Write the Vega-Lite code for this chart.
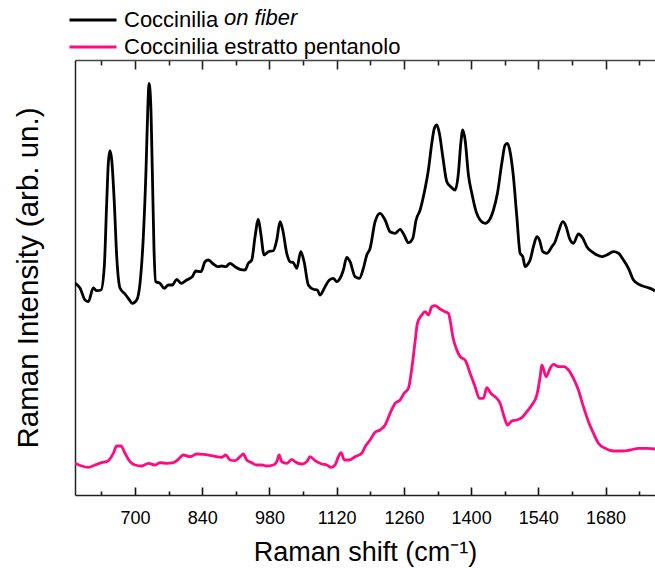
{
  "$schema": "https://vega.github.io/schema/vega-lite/v6.json",
  "width": 580,
  "height": 435,
  "autosize": "none",
  "padding": {"left": 75, "top": 60, "right": 0, "bottom": 73},
  "background": "white",
  "config": {"view": {"stroke": null}, "font": "Liberation Sans"},
  "datasets": {
    "spectra": [
      {"shift": 575, "intensity": 211.7, "sample": "Coccinilia on fiber"},
      {"shift": 585.4, "intensity": 207, "sample": "Coccinilia on fiber"},
      {"shift": 595.8, "intensity": 195, "sample": "Coccinilia on fiber"},
      {"shift": 602.7, "intensity": 193.3, "sample": "Coccinilia on fiber"},
      {"shift": 613.1, "intensity": 207, "sample": "Coccinilia on fiber"},
      {"shift": 620.2, "intensity": 204.3, "sample": "Coccinilia on fiber"},
      {"shift": 629.2, "intensity": 205, "sample": "Coccinilia on fiber"},
      {"shift": 636.0, "intensity": 228.3, "sample": "Coccinilia on fiber"},
      {"shift": 641.0, "intensity": 292, "sample": "Coccinilia on fiber"},
      {"shift": 644.4, "intensity": 332, "sample": "Coccinilia on fiber"},
      {"shift": 647.9, "intensity": 344.3, "sample": "Coccinilia on fiber"},
      {"shift": 651.5, "intensity": 335, "sample": "Coccinilia on fiber"},
      {"shift": 656.9, "intensity": 292, "sample": "Coccinilia on fiber"},
      {"shift": 661.9, "intensity": 238.3, "sample": "Coccinilia on fiber"},
      {"shift": 668.7, "intensity": 207, "sample": "Coccinilia on fiber"},
      {"shift": 679.2, "intensity": 201, "sample": "Coccinilia on fiber"},
      {"shift": 686.0, "intensity": 196.7, "sample": "Coccinilia on fiber"},
      {"shift": 694.4, "intensity": 191.7, "sample": "Coccinilia on fiber"},
      {"shift": 703.5, "intensity": 195, "sample": "Coccinilia on fiber"},
      {"shift": 710.4, "intensity": 211.7, "sample": "Coccinilia on fiber"},
      {"shift": 717.3, "intensity": 258.3, "sample": "Coccinilia on fiber"},
      {"shift": 722.9, "intensity": 325, "sample": "Coccinilia on fiber"},
      {"shift": 726.5, "intensity": 385, "sample": "Coccinilia on fiber"},
      {"shift": 729.2, "intensity": 411.7, "sample": "Coccinilia on fiber"},
      {"shift": 732.7, "intensity": 391.7, "sample": "Coccinilia on fiber"},
      {"shift": 736.0, "intensity": 325, "sample": "Coccinilia on fiber"},
      {"shift": 739.6, "intensity": 245, "sample": "Coccinilia on fiber"},
      {"shift": 743.1, "intensity": 213.3, "sample": "Coccinilia on fiber"},
      {"shift": 752.1, "intensity": 211.7, "sample": "Coccinilia on fiber"},
      {"shift": 761.0, "intensity": 206.7, "sample": "Coccinilia on fiber"},
      {"shift": 769.4, "intensity": 210, "sample": "Coccinilia on fiber"},
      {"shift": 777.7, "intensity": 210, "sample": "Coccinilia on fiber"},
      {"shift": 786.9, "intensity": 215.7, "sample": "Coccinilia on fiber"},
      {"shift": 795.8, "intensity": 211.7, "sample": "Coccinilia on fiber"},
      {"shift": 807.7, "intensity": 215, "sample": "Coccinilia on fiber"},
      {"shift": 819.4, "intensity": 218.3, "sample": "Coccinilia on fiber"},
      {"shift": 826.5, "intensity": 224, "sample": "Coccinilia on fiber"},
      {"shift": 837.5, "intensity": 223.3, "sample": "Coccinilia on fiber"},
      {"shift": 845.8, "intensity": 233.3, "sample": "Coccinilia on fiber"},
      {"shift": 852.7, "intensity": 235, "sample": "Coccinilia on fiber"},
      {"shift": 863.1, "intensity": 231, "sample": "Coccinilia on fiber"},
      {"shift": 872.3, "intensity": 228.3, "sample": "Coccinilia on fiber"},
      {"shift": 880.6, "intensity": 229, "sample": "Coccinilia on fiber"},
      {"shift": 889.0, "intensity": 228.3, "sample": "Coccinilia on fiber"},
      {"shift": 897.9, "intensity": 231.7, "sample": "Coccinilia on fiber"},
      {"shift": 908.3, "intensity": 228.3, "sample": "Coccinilia on fiber"},
      {"shift": 918.7, "intensity": 225.7, "sample": "Coccinilia on fiber"},
      {"shift": 929.2, "intensity": 225, "sample": "Coccinilia on fiber"},
      {"shift": 936.0, "intensity": 231.7, "sample": "Coccinilia on fiber"},
      {"shift": 943.1, "intensity": 235, "sample": "Coccinilia on fiber"},
      {"shift": 950.0, "intensity": 258.3, "sample": "Coccinilia on fiber"},
      {"shift": 956.9, "intensity": 275.7, "sample": "Coccinilia on fiber"},
      {"shift": 961.9, "intensity": 261.7, "sample": "Coccinilia on fiber"},
      {"shift": 968.8, "intensity": 240, "sample": "Coccinilia on fiber"},
      {"shift": 977.7, "intensity": 243.3, "sample": "Coccinilia on fiber"},
      {"shift": 988.1, "intensity": 244.3, "sample": "Coccinilia on fiber"},
      {"shift": 995.2, "intensity": 255, "sample": "Coccinilia on fiber"},
      {"shift": 1002.1, "intensity": 273.3, "sample": "Coccinilia on fiber"},
      {"shift": 1007.7, "intensity": 265, "sample": "Coccinilia on fiber"},
      {"shift": 1016.0, "intensity": 241.7, "sample": "Coccinilia on fiber"},
      {"shift": 1022.9, "intensity": 233.3, "sample": "Coccinilia on fiber"},
      {"shift": 1029.8, "intensity": 232.3, "sample": "Coccinilia on fiber"},
      {"shift": 1036.9, "intensity": 226.7, "sample": "Coccinilia on fiber"},
      {"shift": 1045.2, "intensity": 243.3, "sample": "Coccinilia on fiber"},
      {"shift": 1052.1, "intensity": 233.3, "sample": "Coccinilia on fiber"},
      {"shift": 1061.0, "intensity": 210, "sample": "Coccinilia on fiber"},
      {"shift": 1071.5, "intensity": 205.7, "sample": "Coccinilia on fiber"},
      {"shift": 1079.8, "intensity": 205, "sample": "Coccinilia on fiber"},
      {"shift": 1085.4, "intensity": 200, "sample": "Coccinilia on fiber"},
      {"shift": 1095.8, "intensity": 208.3, "sample": "Coccinilia on fiber"},
      {"shift": 1104.8, "intensity": 215, "sample": "Coccinilia on fiber"},
      {"shift": 1113.1, "intensity": 216.7, "sample": "Coccinilia on fiber"},
      {"shift": 1120.2, "intensity": 213.3, "sample": "Coccinilia on fiber"},
      {"shift": 1127.1, "intensity": 216.7, "sample": "Coccinilia on fiber"},
      {"shift": 1134.0, "intensity": 225, "sample": "Coccinilia on fiber"},
      {"shift": 1141.0, "intensity": 237.7, "sample": "Coccinilia on fiber"},
      {"shift": 1147.9, "intensity": 233.3, "sample": "Coccinilia on fiber"},
      {"shift": 1158.3, "intensity": 218.3, "sample": "Coccinilia on fiber"},
      {"shift": 1167.3, "intensity": 216.7, "sample": "Coccinilia on fiber"},
      {"shift": 1175.6, "intensity": 226.7, "sample": "Coccinilia on fiber"},
      {"shift": 1182.7, "intensity": 240, "sample": "Coccinilia on fiber"},
      {"shift": 1189.6, "intensity": 246.7, "sample": "Coccinilia on fiber"},
      {"shift": 1200.0, "intensity": 273.3, "sample": "Coccinilia on fiber"},
      {"shift": 1210.4, "intensity": 281.7, "sample": "Coccinilia on fiber"},
      {"shift": 1220.8, "intensity": 275, "sample": "Coccinilia on fiber"},
      {"shift": 1231.2, "intensity": 263.3, "sample": "Coccinilia on fiber"},
      {"shift": 1241.7, "intensity": 261.7, "sample": "Coccinilia on fiber"},
      {"shift": 1252.1, "intensity": 265.7, "sample": "Coccinilia on fiber"},
      {"shift": 1260.4, "intensity": 260, "sample": "Coccinilia on fiber"},
      {"shift": 1269.4, "intensity": 252.3, "sample": "Coccinilia on fiber"},
      {"shift": 1278.5, "intensity": 256.7, "sample": "Coccinilia on fiber"},
      {"shift": 1285.4, "intensity": 275, "sample": "Coccinilia on fiber"},
      {"shift": 1293.8, "intensity": 285, "sample": "Coccinilia on fiber"},
      {"shift": 1302.1, "intensity": 301.7, "sample": "Coccinilia on fiber"},
      {"shift": 1311.0, "intensity": 325, "sample": "Coccinilia on fiber"},
      {"shift": 1318.1, "intensity": 351.7, "sample": "Coccinilia on fiber"},
      {"shift": 1323.5, "intensity": 366.7, "sample": "Coccinilia on fiber"},
      {"shift": 1328.5, "intensity": 370, "sample": "Coccinilia on fiber"},
      {"shift": 1333.9, "intensity": 361.7, "sample": "Coccinilia on fiber"},
      {"shift": 1341.0, "intensity": 338.3, "sample": "Coccinilia on fiber"},
      {"shift": 1349.4, "intensity": 313.3, "sample": "Coccinilia on fiber"},
      {"shift": 1357.7, "intensity": 308.3, "sample": "Coccinilia on fiber"},
      {"shift": 1366.7, "intensity": 305, "sample": "Coccinilia on fiber"},
      {"shift": 1373.5, "intensity": 321.7, "sample": "Coccinilia on fiber"},
      {"shift": 1378.5, "intensity": 351.7, "sample": "Coccinilia on fiber"},
      {"shift": 1382.7, "intensity": 365, "sample": "Coccinilia on fiber"},
      {"shift": 1387.5, "intensity": 355, "sample": "Coccinilia on fiber"},
      {"shift": 1394.4, "intensity": 320, "sample": "Coccinilia on fiber"},
      {"shift": 1401.5, "intensity": 301.7, "sample": "Coccinilia on fiber"},
      {"shift": 1410.4, "intensity": 283.3, "sample": "Coccinilia on fiber"},
      {"shift": 1418.8, "intensity": 275, "sample": "Coccinilia on fiber"},
      {"shift": 1429.2, "intensity": 271.7, "sample": "Coccinilia on fiber"},
      {"shift": 1438.1, "intensity": 275, "sample": "Coccinilia on fiber"},
      {"shift": 1446.5, "intensity": 285, "sample": "Coccinilia on fiber"},
      {"shift": 1454.8, "intensity": 301.7, "sample": "Coccinilia on fiber"},
      {"shift": 1463.9, "intensity": 331.7, "sample": "Coccinilia on fiber"},
      {"shift": 1470.8, "intensity": 350, "sample": "Coccinilia on fiber"},
      {"shift": 1475.6, "intensity": 351.7, "sample": "Coccinilia on fiber"},
      {"shift": 1481.2, "intensity": 343.3, "sample": "Coccinilia on fiber"},
      {"shift": 1488.1, "intensity": 318.3, "sample": "Coccinilia on fiber"},
      {"shift": 1495.2, "intensity": 278.3, "sample": "Coccinilia on fiber"},
      {"shift": 1502.1, "intensity": 241.7, "sample": "Coccinilia on fiber"},
      {"shift": 1507.7, "intensity": 238.3, "sample": "Coccinilia on fiber"},
      {"shift": 1512.5, "intensity": 228.3, "sample": "Coccinilia on fiber"},
      {"shift": 1519.4, "intensity": 231.7, "sample": "Coccinilia on fiber"},
      {"shift": 1522.9, "intensity": 235, "sample": "Coccinilia on fiber"},
      {"shift": 1529.8, "intensity": 248.3, "sample": "Coccinilia on fiber"},
      {"shift": 1536.9, "intensity": 258.3, "sample": "Coccinilia on fiber"},
      {"shift": 1542.3, "intensity": 255, "sample": "Coccinilia on fiber"},
      {"shift": 1549.4, "intensity": 243.3, "sample": "Coccinilia on fiber"},
      {"shift": 1557.7, "intensity": 241.7, "sample": "Coccinilia on fiber"},
      {"shift": 1568.1, "intensity": 248.3, "sample": "Coccinilia on fiber"},
      {"shift": 1575.0, "intensity": 253.3, "sample": "Coccinilia on fiber"},
      {"shift": 1581.9, "intensity": 263.3, "sample": "Coccinilia on fiber"},
      {"shift": 1591.0, "intensity": 273.3, "sample": "Coccinilia on fiber"},
      {"shift": 1597.9, "intensity": 268.3, "sample": "Coccinilia on fiber"},
      {"shift": 1604.8, "intensity": 256.7, "sample": "Coccinilia on fiber"},
      {"shift": 1613.1, "intensity": 251.7, "sample": "Coccinilia on fiber"},
      {"shift": 1623.5, "intensity": 261, "sample": "Coccinilia on fiber"},
      {"shift": 1632.7, "intensity": 256.7, "sample": "Coccinilia on fiber"},
      {"shift": 1641.0, "intensity": 248.3, "sample": "Coccinilia on fiber"},
      {"shift": 1651.5, "intensity": 243.3, "sample": "Coccinilia on fiber"},
      {"shift": 1661.9, "intensity": 240, "sample": "Coccinilia on fiber"},
      {"shift": 1672.3, "intensity": 238.3, "sample": "Coccinilia on fiber"},
      {"shift": 1682.7, "intensity": 240, "sample": "Coccinilia on fiber"},
      {"shift": 1696.5, "intensity": 243.3, "sample": "Coccinilia on fiber"},
      {"shift": 1706.9, "intensity": 241.7, "sample": "Coccinilia on fiber"},
      {"shift": 1717.3, "intensity": 235, "sample": "Coccinilia on fiber"},
      {"shift": 1727.7, "intensity": 226.7, "sample": "Coccinilia on fiber"},
      {"shift": 1738.1, "intensity": 215, "sample": "Coccinilia on fiber"},
      {"shift": 1752.1, "intensity": 210, "sample": "Coccinilia on fiber"},
      {"shift": 1766.0, "intensity": 207.7, "sample": "Coccinilia on fiber"},
      {"shift": 1779.8, "intensity": 205, "sample": "Coccinilia on fiber"},
      {"shift": 1783, "intensity": 204, "sample": "Coccinilia on fiber"},
      {"shift": 575, "intensity": 31.7, "sample": "Coccinilia estratto pentanolo"},
      {"shift": 589.0, "intensity": 29, "sample": "Coccinilia estratto pentanolo"},
      {"shift": 602.7, "intensity": 27.7, "sample": "Coccinilia estratto pentanolo"},
      {"shift": 616.7, "intensity": 30, "sample": "Coccinilia estratto pentanolo"},
      {"shift": 630.6, "intensity": 32.3, "sample": "Coccinilia estratto pentanolo"},
      {"shift": 644.4, "intensity": 34.3, "sample": "Coccinilia estratto pentanolo"},
      {"shift": 654.8, "intensity": 41.7, "sample": "Coccinilia estratto pentanolo"},
      {"shift": 661.9, "intensity": 49, "sample": "Coccinilia estratto pentanolo"},
      {"shift": 670.8, "intensity": 49, "sample": "Coccinilia estratto pentanolo"},
      {"shift": 679.2, "intensity": 41.7, "sample": "Coccinilia estratto pentanolo"},
      {"shift": 689.6, "intensity": 33.3, "sample": "Coccinilia estratto pentanolo"},
      {"shift": 700.0, "intensity": 30, "sample": "Coccinilia estratto pentanolo"},
      {"shift": 714.0, "intensity": 29, "sample": "Coccinilia estratto pentanolo"},
      {"shift": 727.7, "intensity": 31.7, "sample": "Coccinilia estratto pentanolo"},
      {"shift": 741.7, "intensity": 30, "sample": "Coccinilia estratto pentanolo"},
      {"shift": 752.1, "intensity": 32.3, "sample": "Coccinilia estratto pentanolo"},
      {"shift": 766.0, "intensity": 31.7, "sample": "Coccinilia estratto pentanolo"},
      {"shift": 779.8, "intensity": 32.3, "sample": "Coccinilia estratto pentanolo"},
      {"shift": 790.2, "intensity": 35.7, "sample": "Coccinilia estratto pentanolo"},
      {"shift": 800.6, "intensity": 40, "sample": "Coccinilia estratto pentanolo"},
      {"shift": 814.6, "intensity": 38.3, "sample": "Coccinilia estratto pentanolo"},
      {"shift": 828.5, "intensity": 41, "sample": "Coccinilia estratto pentanolo"},
      {"shift": 842.3, "intensity": 40.7, "sample": "Coccinilia estratto pentanolo"},
      {"shift": 856.2, "intensity": 39.7, "sample": "Coccinilia estratto pentanolo"},
      {"shift": 870.2, "intensity": 38.3, "sample": "Coccinilia estratto pentanolo"},
      {"shift": 880.6, "intensity": 37.7, "sample": "Coccinilia estratto pentanolo"},
      {"shift": 889.0, "intensity": 40, "sample": "Coccinilia estratto pentanolo"},
      {"shift": 897.9, "intensity": 35, "sample": "Coccinilia estratto pentanolo"},
      {"shift": 908.3, "intensity": 34.3, "sample": "Coccinilia estratto pentanolo"},
      {"shift": 918.7, "intensity": 38.3, "sample": "Coccinilia estratto pentanolo"},
      {"shift": 925.6, "intensity": 41, "sample": "Coccinilia estratto pentanolo"},
      {"shift": 932.7, "intensity": 35, "sample": "Coccinilia estratto pentanolo"},
      {"shift": 943.1, "intensity": 32.3, "sample": "Coccinilia estratto pentanolo"},
      {"shift": 953.5, "intensity": 30, "sample": "Coccinilia estratto pentanolo"},
      {"shift": 964.0, "intensity": 30, "sample": "Coccinilia estratto pentanolo"},
      {"shift": 974.4, "intensity": 29, "sample": "Coccinilia estratto pentanolo"},
      {"shift": 988.1, "intensity": 30, "sample": "Coccinilia estratto pentanolo"},
      {"shift": 995.2, "intensity": 33.3, "sample": "Coccinilia estratto pentanolo"},
      {"shift": 1000.0, "intensity": 40, "sample": "Coccinilia estratto pentanolo"},
      {"shift": 1005.6, "intensity": 33.3, "sample": "Coccinilia estratto pentanolo"},
      {"shift": 1016.0, "intensity": 31.7, "sample": "Coccinilia estratto pentanolo"},
      {"shift": 1026.5, "intensity": 35.7, "sample": "Coccinilia estratto pentanolo"},
      {"shift": 1033.3, "intensity": 33.3, "sample": "Coccinilia estratto pentanolo"},
      {"shift": 1047.3, "intensity": 31, "sample": "Coccinilia estratto pentanolo"},
      {"shift": 1057.7, "intensity": 33.3, "sample": "Coccinilia estratto pentanolo"},
      {"shift": 1064.6, "intensity": 38.3, "sample": "Coccinilia estratto pentanolo"},
      {"shift": 1075.0, "intensity": 34.3, "sample": "Coccinilia estratto pentanolo"},
      {"shift": 1089.0, "intensity": 31, "sample": "Coccinilia estratto pentanolo"},
      {"shift": 1099.4, "intensity": 30, "sample": "Coccinilia estratto pentanolo"},
      {"shift": 1108.3, "intensity": 27.7, "sample": "Coccinilia estratto pentanolo"},
      {"shift": 1116.7, "intensity": 30, "sample": "Coccinilia estratto pentanolo"},
      {"shift": 1123.5, "intensity": 38.3, "sample": "Coccinilia estratto pentanolo"},
      {"shift": 1129.2, "intensity": 42.3, "sample": "Coccinilia estratto pentanolo"},
      {"shift": 1136.0, "intensity": 35, "sample": "Coccinilia estratto pentanolo"},
      {"shift": 1145.8, "intensity": 35, "sample": "Coccinilia estratto pentanolo"},
      {"shift": 1158.3, "intensity": 38.3, "sample": "Coccinilia estratto pentanolo"},
      {"shift": 1172.3, "intensity": 41.7, "sample": "Coccinilia estratto pentanolo"},
      {"shift": 1179.2, "intensity": 48.3, "sample": "Coccinilia estratto pentanolo"},
      {"shift": 1189.6, "intensity": 55, "sample": "Coccinilia estratto pentanolo"},
      {"shift": 1200.0, "intensity": 62.7, "sample": "Coccinilia estratto pentanolo"},
      {"shift": 1210.4, "intensity": 65, "sample": "Coccinilia estratto pentanolo"},
      {"shift": 1220.8, "intensity": 70, "sample": "Coccinilia estratto pentanolo"},
      {"shift": 1231.2, "intensity": 81.7, "sample": "Coccinilia estratto pentanolo"},
      {"shift": 1241.7, "intensity": 91.7, "sample": "Coccinilia estratto pentanolo"},
      {"shift": 1252.1, "intensity": 95, "sample": "Coccinilia estratto pentanolo"},
      {"shift": 1260.4, "intensity": 101.7, "sample": "Coccinilia estratto pentanolo"},
      {"shift": 1269.4, "intensity": 106.7, "sample": "Coccinilia estratto pentanolo"},
      {"shift": 1276.5, "intensity": 126.7, "sample": "Coccinilia estratto pentanolo"},
      {"shift": 1283.3, "intensity": 153.3, "sample": "Coccinilia estratto pentanolo"},
      {"shift": 1288.1, "intensity": 171.7, "sample": "Coccinilia estratto pentanolo"},
      {"shift": 1297.3, "intensity": 180, "sample": "Coccinilia estratto pentanolo"},
      {"shift": 1304.2, "intensity": 183.3, "sample": "Coccinilia estratto pentanolo"},
      {"shift": 1311.0, "intensity": 180, "sample": "Coccinilia estratto pentanolo"},
      {"shift": 1318.1, "intensity": 188.3, "sample": "Coccinilia estratto pentanolo"},
      {"shift": 1325.0, "intensity": 189.3, "sample": "Coccinilia estratto pentanolo"},
      {"shift": 1335.4, "intensity": 186, "sample": "Coccinilia estratto pentanolo"},
      {"shift": 1345.8, "intensity": 183.3, "sample": "Coccinilia estratto pentanolo"},
      {"shift": 1352.7, "intensity": 181.7, "sample": "Coccinilia estratto pentanolo"},
      {"shift": 1356.2, "intensity": 175, "sample": "Coccinilia estratto pentanolo"},
      {"shift": 1361.9, "intensity": 158.3, "sample": "Coccinilia estratto pentanolo"},
      {"shift": 1370.2, "intensity": 145, "sample": "Coccinilia estratto pentanolo"},
      {"shift": 1377.1, "intensity": 138.3, "sample": "Coccinilia estratto pentanolo"},
      {"shift": 1387.5, "intensity": 135, "sample": "Coccinilia estratto pentanolo"},
      {"shift": 1397.9, "intensity": 121.7, "sample": "Coccinilia estratto pentanolo"},
      {"shift": 1408.3, "intensity": 108.3, "sample": "Coccinilia estratto pentanolo"},
      {"shift": 1417.3, "intensity": 96.7, "sample": "Coccinilia estratto pentanolo"},
      {"shift": 1425.6, "intensity": 96.7, "sample": "Coccinilia estratto pentanolo"},
      {"shift": 1432.7, "intensity": 107.3, "sample": "Coccinilia estratto pentanolo"},
      {"shift": 1441.0, "intensity": 101.7, "sample": "Coccinilia estratto pentanolo"},
      {"shift": 1450.0, "intensity": 98.3, "sample": "Coccinilia estratto pentanolo"},
      {"shift": 1460.4, "intensity": 91.7, "sample": "Coccinilia estratto pentanolo"},
      {"shift": 1468.8, "intensity": 78.3, "sample": "Coccinilia estratto pentanolo"},
      {"shift": 1475.6, "intensity": 70, "sample": "Coccinilia estratto pentanolo"},
      {"shift": 1484.8, "intensity": 74, "sample": "Coccinilia estratto pentanolo"},
      {"shift": 1495.2, "intensity": 75, "sample": "Coccinilia estratto pentanolo"},
      {"shift": 1505.6, "intensity": 77.3, "sample": "Coccinilia estratto pentanolo"},
      {"shift": 1516.0, "intensity": 83.3, "sample": "Coccinilia estratto pentanolo"},
      {"shift": 1526.5, "intensity": 90, "sample": "Coccinilia estratto pentanolo"},
      {"shift": 1536.9, "intensity": 100, "sample": "Coccinilia estratto pentanolo"},
      {"shift": 1543.8, "intensity": 118.3, "sample": "Coccinilia estratto pentanolo"},
      {"shift": 1547.3, "intensity": 130, "sample": "Coccinilia estratto pentanolo"},
      {"shift": 1556.2, "intensity": 118.3, "sample": "Coccinilia estratto pentanolo"},
      {"shift": 1564.6, "intensity": 126.7, "sample": "Coccinilia estratto pentanolo"},
      {"shift": 1571.5, "intensity": 130.7, "sample": "Coccinilia estratto pentanolo"},
      {"shift": 1581.9, "intensity": 128.3, "sample": "Coccinilia estratto pentanolo"},
      {"shift": 1593.8, "intensity": 128.3, "sample": "Coccinilia estratto pentanolo"},
      {"shift": 1602.7, "intensity": 125, "sample": "Coccinilia estratto pentanolo"},
      {"shift": 1613.1, "intensity": 116.7, "sample": "Coccinilia estratto pentanolo"},
      {"shift": 1623.5, "intensity": 105, "sample": "Coccinilia estratto pentanolo"},
      {"shift": 1633.9, "intensity": 88.3, "sample": "Coccinilia estratto pentanolo"},
      {"shift": 1644.4, "intensity": 73.3, "sample": "Coccinilia estratto pentanolo"},
      {"shift": 1654.8, "intensity": 61.7, "sample": "Coccinilia estratto pentanolo"},
      {"shift": 1665.2, "intensity": 51.7, "sample": "Coccinilia estratto pentanolo"},
      {"shift": 1679.2, "intensity": 46.7, "sample": "Coccinilia estratto pentanolo"},
      {"shift": 1696.5, "intensity": 44, "sample": "Coccinilia estratto pentanolo"},
      {"shift": 1717.3, "intensity": 44, "sample": "Coccinilia estratto pentanolo"},
      {"shift": 1731.2, "intensity": 45, "sample": "Coccinilia estratto pentanolo"},
      {"shift": 1748.5, "intensity": 46.7, "sample": "Coccinilia estratto pentanolo"},
      {"shift": 1766.0, "intensity": 46.7, "sample": "Coccinilia estratto pentanolo"},
      {"shift": 1783, "intensity": 46, "sample": "Coccinilia estratto pentanolo"}
    ]
  },
  "data": {"name": "spectra"},
  "layer": [
    {
      "transform": [{"filter": "datum.sample === 'Coccinilia on fiber'"}],
      "mark": {"type": "line", "strokeWidth": 2.8, "clip": true, "strokeJoin": "round", "interpolate": "monotone"},
      "encoding": {
        "x": {
          "field": "shift", "type": "quantitative",
          "scale": {"domain": [575, 1783], "nice": false, "zero": false},
          "axis": {
            "orient": "bottom",
            "values": [630, 700, 770, 840, 910, 980, 1050, 1120, 1190, 1260, 1330, 1400, 1470, 1540, 1610, 1680, 1750],
            "labelExpr": "datum.value % 140 === 0 ? datum.label : ''",
            "format": "d",
            "title": "Raman shift (cm⁻¹)",
            "titleFontSize": 27, "titleFontWeight": "normal", "titleColor": "#000", "titlePadding": 8,
            "labelFontSize": 18, "labelColor": "#000", "labelPadding": 22, "labelFlush": false, "labelOverlap": false,
            "grid": false,
            "domainColor": "#222", "domainWidth": 1.5,
            "ticks": true, "tickColor": "#111", "tickWidth": 1.6,
            "tickSize": {"condition": {"test": "datum.value % 140 === 0", "value": -8}, "value": -4}
          }
        },
        "y": {
          "field": "intensity", "type": "quantitative",
          "scale": {"domain": [0, 435], "nice": false},
          "axis": {
            "title": "Raman Intensity (arb. un.)",
            "titleFontSize": 29.5, "titleFontWeight": "normal", "titleColor": "#000", "titlePadding": 32,
            "labels": false, "ticks": false, "grid": false,
            "domainColor": "#222", "domainWidth": 1.5
          }
        },
        "color": {
          "field": "sample", "type": "nominal",
          "scale": {"domain": ["Coccinilia on fiber"], "range": ["#000000"]},
          "legend": {
            "orient": "none", "legendX": -7, "legendY": -65,
            "labelExpr": "'Coccinilia'",
            "title": "on fiber", "titleOrient": "right", "titleFontStyle": "italic", "titleFontWeight": "normal",
            "titleFontSize": 22, "titleColor": "#000", "titlePadding": 6,
            "titleBaseline": "line-top", "titleLineHeight": 12,
            "symbolType": "stroke", "symbolSize": 2209, "symbolStrokeWidth": 2.8,
            "labelFontSize": 22, "labelColor": "#000", "labelLimit": 0, "labelOffset": 6
          }
        }
      }
    },
    {
      "transform": [{"filter": "datum.sample === 'Coccinilia estratto pentanolo'"}],
      "mark": {"type": "line", "strokeWidth": 2.8, "clip": true, "strokeJoin": "round", "interpolate": "monotone"},
      "encoding": {
        "x": {
          "field": "shift", "type": "quantitative",
          "scale": {"domain": [575, 1783], "nice": false, "zero": false},
          "axis": {
            "orient": "top",
            "values": [630, 700, 770, 840, 910, 980, 1050, 1120, 1190, 1260, 1330, 1400, 1470, 1540, 1610, 1680, 1750],
            "labels": false, "title": null, "grid": false,
            "domainColor": "#444", "domainWidth": 1.5,
            "ticks": true, "tickColor": "#222", "tickWidth": 1.6,
            "tickSize": {"condition": {"test": "datum.value % 140 === 0", "value": -9}, "value": -5}
          }
        },
        "y": {
          "field": "intensity", "type": "quantitative",
          "scale": {"domain": [0, 435], "nice": false},
          "axis": {
            "title": "Raman Intensity (arb. un.)",
            "titleFontSize": 29.5, "titleFontWeight": "normal", "titleColor": "#000", "titlePadding": 32,
            "labels": false, "ticks": false, "grid": false,
            "domainColor": "#222", "domainWidth": 1.5
          }
        },
        "color": {
          "field": "sample", "type": "nominal",
          "scale": {"domain": ["Coccinilia estratto pentanolo"], "range": ["#FF0A80"]},
          "legend": {
            "orient": "none", "legendX": -7, "legendY": -38,
            "title": null,
            "symbolType": "stroke", "symbolSize": 2209, "symbolStrokeWidth": 2.8,
            "labelFontSize": 22, "labelColor": "#000", "labelLimit": 0, "labelOffset": 6
          }
        }
      }
    }
  ],
  "resolve": {
    "axis": {"x": "independent"},
    "scale": {"color": "independent"},
    "legend": {"color": "independent"}
  }
}
